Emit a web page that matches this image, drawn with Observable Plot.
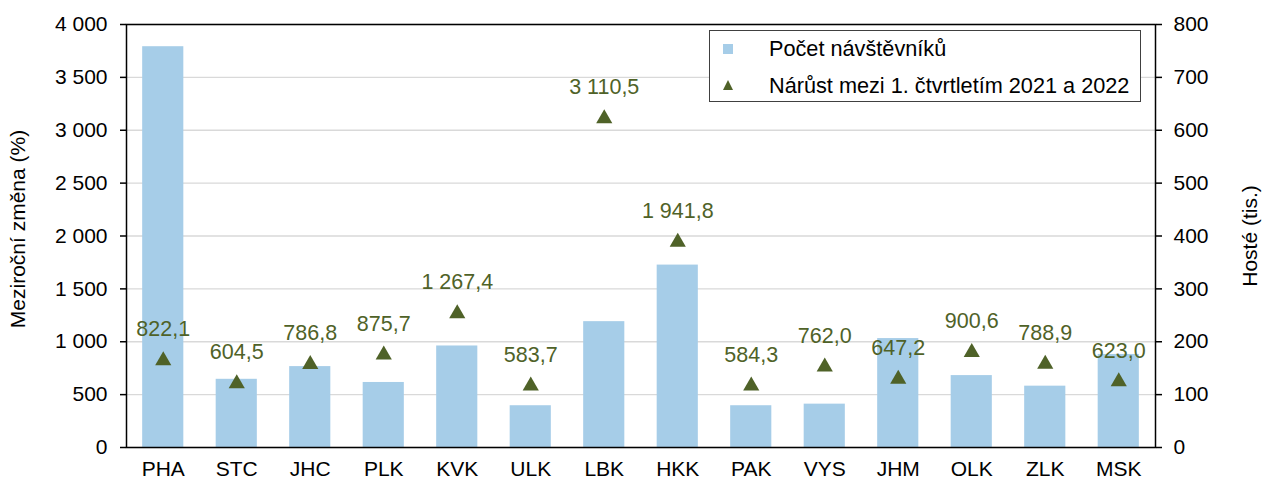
<!DOCTYPE html>
<html>
<head>
<meta charset="utf-8">
<script src="https://cdn.jsdelivr.net/npm/d3@7"></script>
<script src="https://cdn.jsdelivr.net/npm/@observablehq/plot@0.6"></script>
<style>
  body { margin: 0; background: #fff; font-family: "Liberation Sans", Arial, sans-serif; }
  #wrap { position: relative; width: 1262px; height: 480px; }
  #legend { position: absolute; left: 709px; top: 30px; width: 432px; height: 72px; border: 1px solid #404040; background: #fff; box-sizing: border-box; font-size: 21.7px; color: #000; }
  .row { position: absolute; left: 0; height: 24px; line-height: 24px; }
  .row span.t { position: absolute; left: 59px; white-space: nowrap; }
  .sq { position: absolute; left: 13px; top: 7px; width: 10px; height: 10px; background: #a6cde8; }
  .tri { position: absolute; left: 13px; top: 6px; width: 0; height: 0; border-left: 5px solid transparent; border-right: 5px solid transparent; border-bottom: 10px solid #4f6228; }
</style>
</head>
<body>
<div id="wrap">
  <div id="legend">
    <div class="row" style="top:6px"><div class="sq"></div><span class="t">Počet návštěvníků</span></div>
    <div class="row" style="top:43px"><div class="tri"></div><span class="t">Nárůst mezi 1. čtvrtletím 2021 a 2022</span></div>
  </div>
</div>
<script>
const categories = ["PHA","STC","JHC","PLK","KVK","ULK","LBK","HKK","PAK","VYS","JHM","OLK","ZLK","MSK"];
const guests = [758, 129, 153, 123, 192, 79, 238, 345, 79, 82, 206, 136, 116, 176]; // tis., right axis
const growth = [822.1, 604.5, 786.8, 875.7, 1267.4, 583.7, 3110.5, 1941.8, 584.3, 762.0, 647.2, 900.6, 788.9, 623.0]; // %, left axis
const leftTicks = [0, 500, 1000, 1500, 2000, 2500, 3000, 3500, 4000];
const rightTicks = [0, 100, 200, 300, 400, 500, 600, 700, 800];
const ratio = 4000 / 800;

const data = categories.map((c, i) => ({cat: c, guests: guests[i], growth: growth[i]}));

const loc = d3.formatLocale({decimal: ",", thousands: "\u00a0", grouping: [3], currency: ["", ""]});
const fmtInt = loc.format(",d");
const fmtDec = loc.format(",.1f");

const fontFamily = "Liberation Sans, Arial, sans-serif";
const fs = 21;

const chart = Plot.plot({
  width: 1262,
  height: 480,
  marginLeft: 126,
  marginRight: 107,
  marginTop: 24,
  marginBottom: 33,
  style: {fontFamily, fontSize: fs + "px", color: "#000", background: "#fff"},
  x: {domain: categories, paddingInner: 0.44, paddingOuter: 0.22, round: false, label: null},
  y: {domain: [0, 4000], label: null},
  marks: [
    Plot.gridY(leftTicks, {stroke: "#d9d9d9", strokeOpacity: 1, strokeWidth: 1.3}),
    Plot.barY(data, {x: "cat", y: d => d.guests * ratio, fill: "#a6cde8"}),
    Plot.dot(data, {x: "cat", y: "growth", symbol: "triangle", r: 6, fill: "#4f6228", stroke: "none"}),
    Plot.text(data, {x: "cat", y: "growth", text: d => fmtDec(d.growth), dy: -31, fill: "#4f6228", fontSize: 21.5}),
    Plot.frame({stroke: "#000", strokeWidth: 1.5}),
    Plot.axisY(leftTicks, {anchor: "left", tickFormat: fmtInt, tickSize: 6, tickPadding: 13, stroke: "#000", strokeWidth: 1.5, label: null, fontSize: fs, fill: "#000"}),
    Plot.axisY(leftTicks, {anchor: "right", tickFormat: d => fmtInt(d / ratio), tickSize: 6, tickPadding: 12, stroke: "#000", strokeWidth: 1.5, label: null, fontSize: fs, fill: "#000"}),
    Plot.axisX({anchor: "bottom", tickSize: 0, tickPadding: 14, label: null, fontSize: fs, fill: "#000"}),
    Plot.text(["Meziroční změna (%)"], {frameAnchor: "left", dx: -108, dy: -7, rotate: -90, textAnchor: "middle", fontSize: fs, fill: "#000"}),
    Plot.text(["Hosté (tis.)"], {frameAnchor: "right", dx: 95, rotate: -90, textAnchor: "middle", fontSize: fs, fill: "#000"})
  ]
});

const wrap = document.getElementById("wrap");
wrap.insertBefore(chart, wrap.firstChild);
</script>
</body>
</html>
